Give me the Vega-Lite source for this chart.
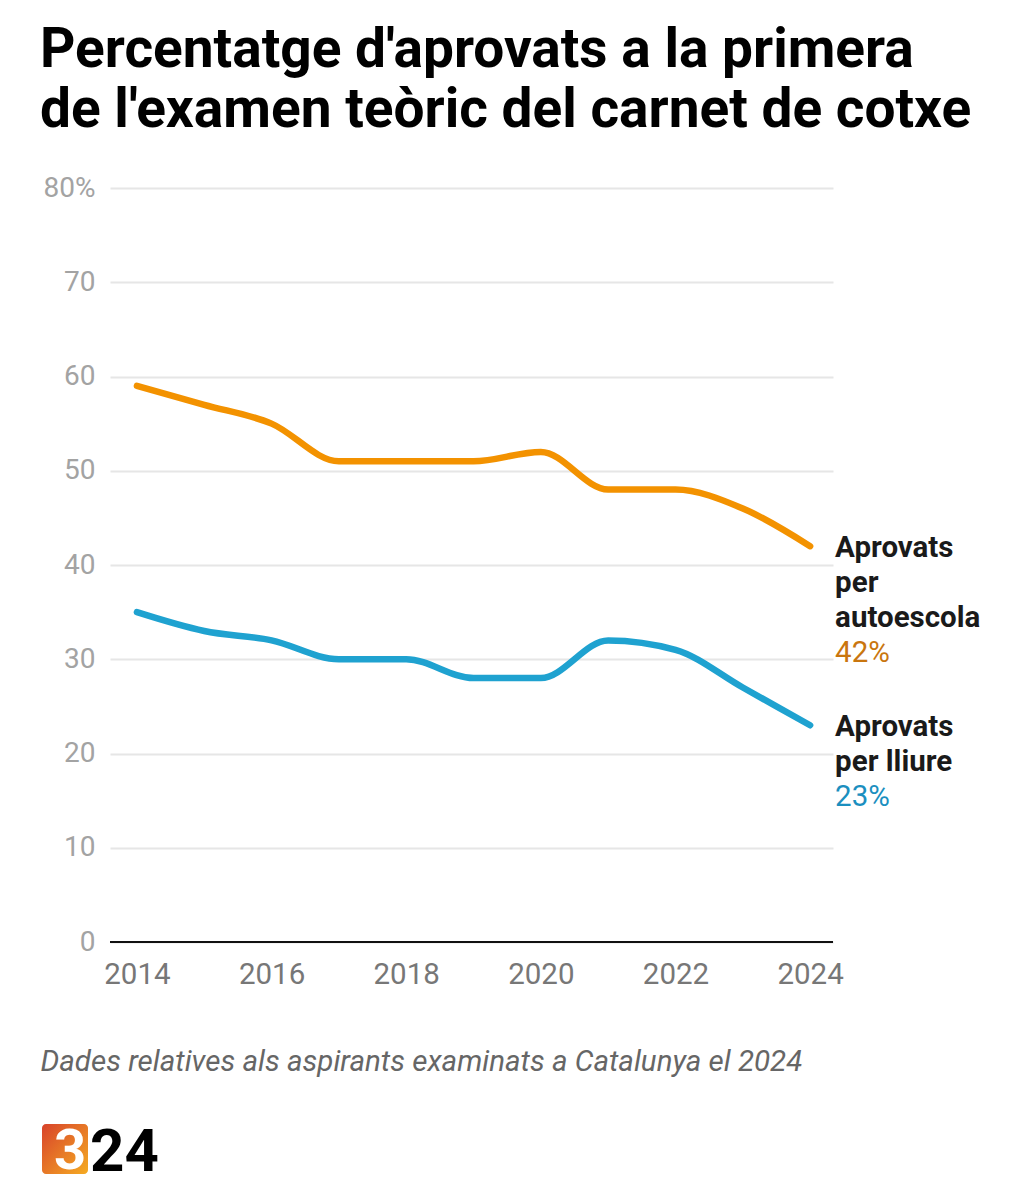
{
  "$schema": "https://vega.github.io/schema/vega-lite/v6.json",
  "background": "white",
  "autosize": {"type": "pad"},
  "padding": {"left": 40, "top": 23, "right": 0, "bottom": 0},
  "config": {"view": {"stroke": null}, "font": "Roboto"},
  "title": {
    "text": ["Percentatge d'aprovats a la primera", "de l'examen teòric del carnet de cotxe"],
    "anchor": "start",
    "frame": "bounds",
    "font": "Roboto",
    "fontSize": 55,
    "fontWeight": "bold",
    "lineHeight": 60,
    "color": "#000000",
    "offset": 35
  },
  "spacing": 28,
  "vconcat": [
    {
      "width": 723,
      "height": 754,
      "data": {
        "values": [
          {"year": 2014, "series": "Aprovats\nper\nautoescola", "value": 59},
          {"year": 2015, "series": "Aprovats\nper\nautoescola", "value": 57},
          {"year": 2016, "series": "Aprovats\nper\nautoescola", "value": 55},
          {"year": 2017, "series": "Aprovats\nper\nautoescola", "value": 51},
          {"year": 2018, "series": "Aprovats\nper\nautoescola", "value": 51},
          {"year": 2019, "series": "Aprovats\nper\nautoescola", "value": 51},
          {"year": 2020, "series": "Aprovats\nper\nautoescola", "value": 52},
          {"year": 2021, "series": "Aprovats\nper\nautoescola", "value": 48},
          {"year": 2022, "series": "Aprovats\nper\nautoescola", "value": 48},
          {"year": 2023, "series": "Aprovats\nper\nautoescola", "value": 46},
          {"year": 2024, "series": "Aprovats\nper\nautoescola", "value": 42},
          {"year": 2014, "series": "Aprovats\nper lliure", "value": 35},
          {"year": 2015, "series": "Aprovats\nper lliure", "value": 33},
          {"year": 2016, "series": "Aprovats\nper lliure", "value": 32},
          {"year": 2017, "series": "Aprovats\nper lliure", "value": 30},
          {"year": 2018, "series": "Aprovats\nper lliure", "value": 30},
          {"year": 2019, "series": "Aprovats\nper lliure", "value": 28},
          {"year": 2020, "series": "Aprovats\nper lliure", "value": 28},
          {"year": 2021, "series": "Aprovats\nper lliure", "value": 32},
          {"year": 2022, "series": "Aprovats\nper lliure", "value": 31},
          {"year": 2023, "series": "Aprovats\nper lliure", "value": 27},
          {"year": 2024, "series": "Aprovats\nper lliure", "value": 23}
        ]
      },
      "encoding": {
        "x": {
          "field": "year",
          "type": "quantitative",
          "scale": {"domain": [2013.6, 2024.34], "nice": false, "zero": false},
          "axis": {
            "values": [2014, 2016, 2018, 2020, 2022, 2024],
            "format": "d",
            "domain": false,
            "ticks": false,
            "grid": false,
            "labelFontSize": 29.5,
            "labelColor": "#777777",
            "labelPadding": 18,
            "labelFlush": false,
            "title": "Dades relatives als aspirants examinats a Catalunya el 2024",
            "titleFontSize": 29.5,
            "titleFontStyle": "italic",
            "titleFontWeight": "normal",
            "titleColor": "#666666",
            "titleAnchor": "start",
            "titleAlign": "left",
            "titleBaseline": "alphabetic",
            "titleX": -70,
            "titleY": 128
          }
        },
        "y": {
          "field": "value",
          "type": "quantitative",
          "scale": {"domain": [0, 80], "nice": false},
          "axis": {
            "values": [0, 10, 20, 30, 40, 50, 60, 70, 80],
            "labelExpr": "datum.value == 80 ? datum.label + '%' : datum.label",
            "domain": false,
            "ticks": false,
            "grid": true,
            "gridColor": "#e6e6e6",
            "gridWidth": 2,
            "labelFontSize": 28,
            "labelColor": "#a3a3a3",
            "labelPadding": 15,
            "title": null
          }
        }
      },
      "layer": [
        {
          "mark": {"type": "rule", "color": "#111111", "strokeWidth": 2},
          "encoding": {"y": {"datum": 0}, "x": null}
        },
        {
          "mark": {"type": "line", "interpolate": "monotone", "strokeWidth": 6.5, "strokeCap": "round", "strokeJoin": "round"},
          "encoding": {
            "color": {
              "field": "series",
              "type": "nominal",
              "scale": {"domain": ["Aprovats\nper\nautoescola", "Aprovats\nper lliure"], "range": ["#f39200", "#1fa2d0"]},
              "legend": null
            }
          }
        },
        {
          "transform": [{"filter": "datum.year == 2024"}],
          "mark": {"type": "text", "align": "left", "baseline": "top", "dx": 25, "dy": -12, "fontSize": 29.5, "fontWeight": "bold", "lineHeight": 35, "lineBreak": "\n", "color": "#1a1a1a"},
          "encoding": {"text": {"field": "series"}}
        },
        {
          "transform": [
            {"filter": "datum.year == 2024 && datum.series == 'Aprovats\\nper\\nautoescola'"},
            {"calculate": "datum.value + '%'", "as": "pct"}
          ],
          "mark": {"type": "text", "align": "left", "baseline": "top", "dx": 25, "dy": 93, "fontSize": 29.5, "color": "#c9760f"},
          "encoding": {"text": {"field": "pct"}}
        },
        {
          "transform": [
            {"filter": "datum.year == 2024 && datum.series == 'Aprovats\\nper lliure'"},
            {"calculate": "datum.value + '%'", "as": "pct"}
          ],
          "mark": {"type": "text", "align": "left", "baseline": "top", "dx": 25, "dy": 58, "fontSize": 29.5, "color": "#1b8fbf"},
          "encoding": {"text": {"field": "pct"}}
        }
      ]
    },
    {
      "width": 130,
      "height": 70,
      "data": {"values": [{"box": "3", "brand": "24"}]},
      "layer": [
        {
          "mark": {
            "type": "rect",
            "cornerRadius": 4,
            "fill": {
              "gradient": "linear", "x1": 0, "y1": 0, "x2": 1, "y2": 1,
              "stops": [{"offset": 0, "color": "#d8432b"}, {"offset": 1, "color": "#f5ab22"}]
            }
          },
          "encoding": {
            "x": {"datum": 0, "type": "quantitative", "scale": {"domain": [68, 198], "nice": false, "zero": false}, "axis": null},
            "x2": {"datum": 46},
            "y": {"datum": 0, "type": "quantitative", "scale": {"domain": [0, 70], "nice": false}, "axis": null},
            "y2": {"datum": 50}
          }
        },
        {
          "mark": {"type": "text", "align": "center", "baseline": "alphabetic", "fontSize": 56, "fontWeight": "bold", "font": "Roboto", "color": "#ffffff"},
          "encoding": {
            "x": {"datum": 28, "type": "quantitative"},
            "y": {"datum": 5, "type": "quantitative"},
            "text": {"field": "box"}
          }
        },
        {
          "mark": {"type": "text", "align": "left", "baseline": "alphabetic", "fontSize": 60, "fontWeight": "bold", "font": "Roboto", "color": "#000000"},
          "encoding": {
            "x": {"datum": 48, "type": "quantitative"},
            "y": {"datum": 3, "type": "quantitative"},
            "text": {"field": "brand"}
          }
        }
      ]
    }
  ]
}
